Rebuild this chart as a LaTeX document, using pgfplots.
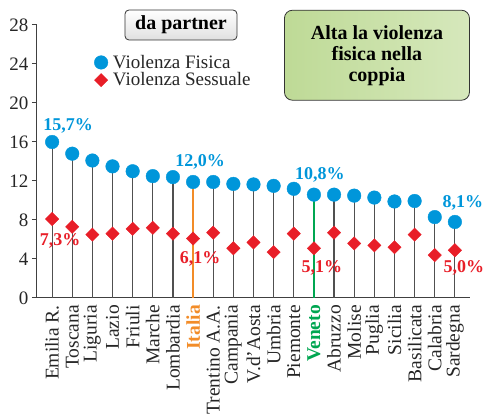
\documentclass[border=0pt]{standalone}
\usepackage{fontspec}
\setmainfont{Liberation Serif}
\usepackage{pgfplots}
\pgfplotsset{compat=1.18}
\definecolor{cblue}{RGB}{0,150,218}
\definecolor{cred}{RGB}{232,30,40}
\definecolor{corange}{RGB}{242,140,40}
\definecolor{cgreen}{RGB}{0,166,81}
\definecolor{boxgreen}{RGB}{190,218,150}
\definecolor{boxgreenl}{RGB}{214,232,188}
\definecolor{stem}{RGB}{80,80,80}
\pgfplotstableread{
x fis ses
0 16.0 8.1
1 14.8 7.3
2 14.1 6.5
3 13.5 6.6
4 13.0 7.1
5 12.5 7.2
6 12.4 6.6
7 11.9 6.1
8 11.9 6.7
9 11.7 5.1
10 11.65 5.7
11 11.5 4.7
12 11.2 6.6
13 10.6 5.1
14 10.6 6.7
15 10.5 5.6
16 10.3 5.4
17 9.9 5.2
18 9.95 6.5
19 8.3 4.4
20 7.8 4.9
}\datatable
\begin{document}
\begin{tikzpicture}[font=\rmfamily]
\begin{axis}[
  scale only axis, width=433pt, height=273pt,
  xmin=-0.75, xmax=20.75, ymin=0, ymax=28,
  clip=false,
  axis x line=bottom, axis y line=left,
  axis line style={-, draw=black!75, line width=1pt},
  ytick={0,4,...,28},
  tick align=outside,
  major y tick style={draw=black!75, line width=1pt},
  major tick length=5pt,
  xtick={0,...,20},
  major x tick style={draw=none},
  xticklabels={Emilia R.,Toscana,Liguria,Lazio,Friuli,Marche,Lombardia,{\textbf{\color{corange}Italia}},Trentino A.A.,Campania,V.d'Aosta,Umbria,Piemonte,{\textbf{\color{cgreen}Veneto}},Abruzzo,Molise,Puglia,Sicilia,Basilicata,Calabria,Sardegna},
  x tick label style={rotate=90, anchor=east, font=\rmfamily\fontsize{19.5}{19.5}\selectfont, text=black!85, inner sep=2pt},
  y tick label style={font=\rmfamily\fontsize{19}{19}\selectfont, text=black!85},
  /pgf/number format/assume math mode=true,
  legend style={at={(rel axis cs:0.125,0.905)}, anchor=north west, draw=none, fill=none,
    font=\rmfamily\fontsize{19}{21}\selectfont, text=black!85, row sep=-1pt,
    nodes={inner xsep=5pt}},
  legend cell align=left,
]
\addplot[ycomb, draw=stem, line width=1.2pt, forget plot] table[x=x,y=fis] {\datatable};
\addplot[ycomb, draw=corange, line width=1.2pt, forget plot] coordinates {(7,11.9)};
\addplot[ycomb, draw=cgreen, line width=1.2pt, forget plot] coordinates {(13,10.6)};
\addplot[only marks, mark=*, mark size=6.8pt, mark options={fill=cblue, draw=cblue}] table[x=x,y=fis] {\datatable};
\addlegendentry{Violenza Fisica}
\addplot[only marks, mark=square*, mark size=4.7pt, mark options={fill=cred, draw=cred, rotate=45}] table[x=x,y=ses] {\datatable};
\addlegendentry{Violenza Sessuale}
\begin{scope}[font=\rmfamily\bfseries\fontsize{18}{18}\selectfont]
\node[text=cblue] at (axis cs:0.8,17.7) {15,7\%};
\node[text=cblue] at (axis cs:7.35,13.95) {12,0\%};
\node[text=cblue] at (axis cs:13.3,12.6) {10,8\%};
\node[text=cblue] at (axis cs:20.4,9.75) {8,1\%};
\node[text=cred] at (axis cs:0.4,5.85) {7,3\%};
\node[text=cred] at (axis cs:7.35,4.0) {6,1\%};
\node[text=cred] at (axis cs:13.4,3.1) {5,1\%};
\node[text=cred] at (axis cs:20.45,3.1) {5,0\%};
\end{scope}
\node[draw=black!80, line width=0.8pt, rounded corners=4pt, top color=white, bottom color=black!12,
  minimum width=112pt, minimum height=30pt, inner sep=0pt, font=\rmfamily\bfseries\fontsize{20}{20}\selectfont]
  at (axis cs:6.4,28.0) {da partner};
\node[draw=black!80, line width=0.8pt, rounded corners=8pt, left color=boxgreen, right color=boxgreenl,
  minimum width=185pt, minimum height=90pt, align=center, font=\rmfamily\bfseries\fontsize{20}{21}\selectfont]
  at (axis cs:16.13,24.9) {Alta la violenza\\fisica nella\\coppia};
\end{axis}
\pgfresetboundingbox
\path[use as bounding box] (current axis.south west) ++(-37pt,-121pt) rectangle ++(485pt,419pt);
\end{tikzpicture}
\end{document}
